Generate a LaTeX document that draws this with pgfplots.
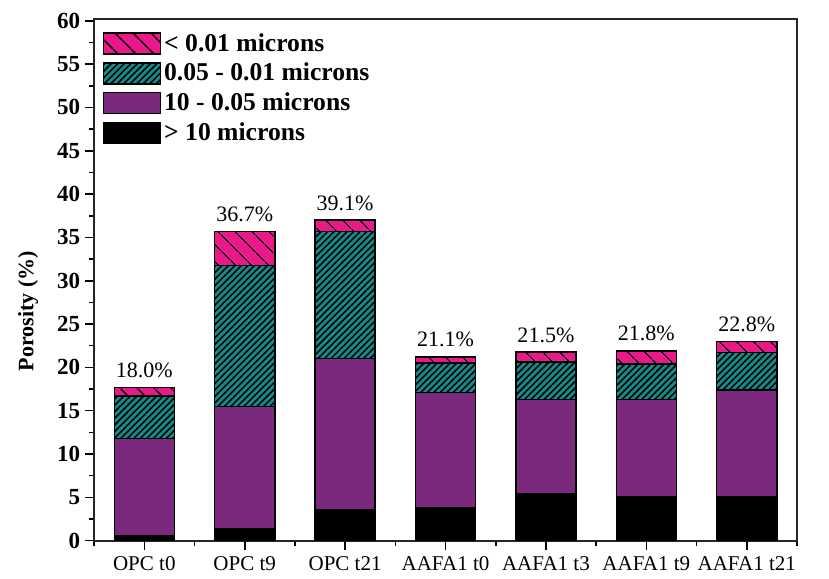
\documentclass[border=0pt]{standalone}
\usepackage{pgfplots}
\usepackage{pgfplotstable}
\pgfplotsset{compat=1.18}
\usetikzlibrary{patterns.meta}
\usepackage{fontspec}
\setmainfont{Liberation Serif}

\definecolor{segpink}{RGB}{236,24,138}
\definecolor{segteal}{RGB}{19,140,138}
\definecolor{segpurple}{RGB}{123,41,125}

% pore-size fractions of the total porosity (%), stacked bottom to top;
% "cap" is a hairline top segment that carries the total-porosity label
\pgfplotstableread{
x big   mid   small tiny  cap   total
0 0.6   11.2  4.9   1.0   0.001 18.0
1 1.35  14.15 16.25 3.95  0.001 36.7
2 3.55  17.5  14.65 1.3   0.001 39.1
3 3.8   13.3  3.4   0.7   0.001 21.1
4 5.4   10.9  4.3   1.15  0.001 21.5
5 5.1   11.2  4.1   1.5   0.001 21.8
6 5.1   12.3  4.3   1.3   0.001 22.8
}\poredata

\pgfplotsset{
  seg/.style={draw=black, line width=0.75pt,
    legend image code/.code={\draw[##1] (0pt,-5.25pt) rectangle (28.5pt,5.25pt);}},
}

\begin{document}
\begin{tikzpicture}
\begin{axis}[
  name=ax,
  scale only axis,
  width=351pt, height=260.5pt,
  ybar stacked, bar width=30pt,
  xmin=-0.5, xmax=6.5,
  ymin=0, ymax=60.2,
  xtick={0,...,6},
  xticklabels={OPC t0, OPC t9, OPC t21, AAFA1 t0, AAFA1 t3, AAFA1 t9, AAFA1 t21},
  minor xtick={-0.5,0.5,...,6.5},
  ytick={0,5,...,60},
  minor ytick={2.5,7.5,...,57.5},
  tick align=outside,
  tick pos=left,
  major tick length=4.5pt,
  minor tick length=2.5pt,
  every tick/.style={black, line width=0.8pt},
  axis line style={line width=1pt, black!85},
  /pgf/number format/assume math mode=true,
  tick label style={font=\fontsize{10.5}{12}\selectfont},
  yticklabel style={font=\fontsize{11.5}{13}\selectfont\bfseries, xshift=1pt},
  ylabel={\textbf{Porosity (\%)}},
  ylabel style={font=\fontsize{11}{13}\selectfont, at={(ticklabel cs:0.44,2.5pt)}},
  reverse legend,
  legend cell align=left,
  legend style={at={(0.0115,0.975)}, anchor=north west, draw=none, fill=none,
    row sep=3.6pt, inner sep=0pt,
    nodes={font=\fontsize{12.8}{14}\selectfont\bfseries, inner xsep=1.5pt, inner ysep=0.3pt}},
]
\addplot[seg, fill=black] table[x=x, y=big] {\poredata};
\addlegendentry{> 10 microns}
\addplot[seg, fill=segpurple] table[x=x, y=mid] {\poredata};
\addlegendentry{10 - 0.05 microns}
\addplot[seg, fill=segteal,
  postaction={pattern={Lines[angle=45, distance=2.3pt, line width=0.8pt]}}]
  table[x=x, y=small] {\poredata};
\addlegendentry{0.05 - 0.01 microns}
\addplot[seg, fill=segpink,
  postaction={pattern={Lines[angle=-45, distance=6.5pt, line width=0.85pt]}}]
  table[x=x, y=tiny] {\poredata};
\addlegendentry{< 0.01 microns}
\addplot[draw=none, fill=none, forget plot,
  point meta=explicit symbolic,
  nodes near coords={\pgfplotspointmeta\%},
  every node near coord/.append style={font=\fontsize{11}{13}\selectfont,
    text=black, anchor=base, yshift=5pt}]
  table[x=x, y=cap, meta=total] {\poredata};
\end{axis}
\path (ax.south west) ++(-47pt,-19pt) rectangle ([shift={(16pt,9.5pt)}]ax.north east);
\end{tikzpicture}
\end{document}
